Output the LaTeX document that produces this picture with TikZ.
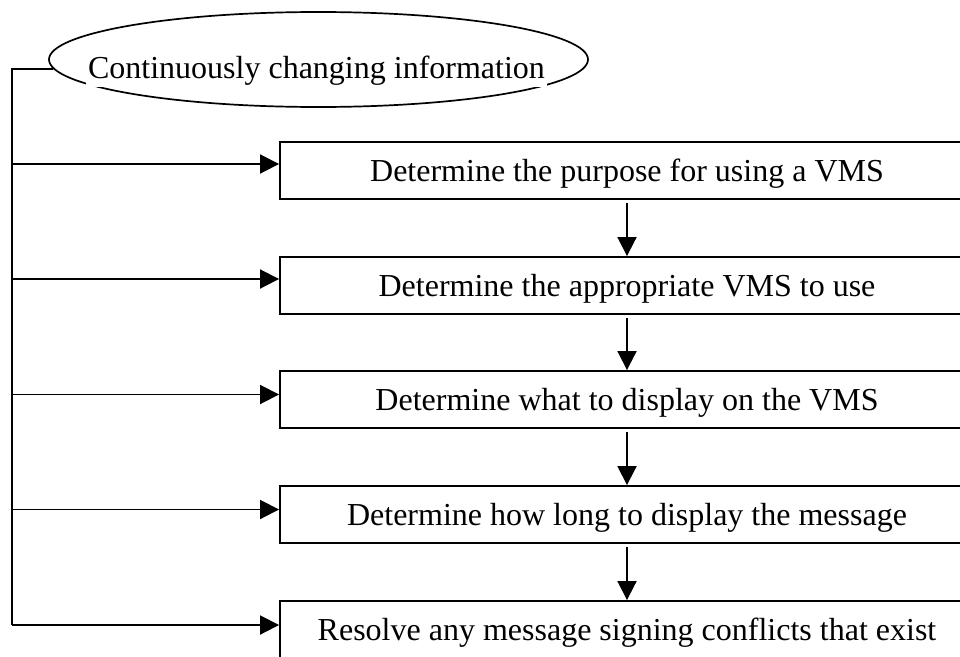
\documentclass[tikz,border=0pt]{standalone}
\usepackage{fontspec}
\setmainfont{Liberation Serif}
\usetikzlibrary{arrows.meta,shapes.geometric,calc}
\tikzset{
  stepbox/.style={draw,line width=1.9pt,minimum width=694pt,minimum height=57pt,inner sep=0pt,
    text height=21pt,text depth=0pt,font=\fontsize{32}{38}\selectfont},
  link/.style={line width=1.9pt},
  arr/.style={line width=1.9pt,-{Triangle[length=19pt,width=19pt]}},
  ell/.style={draw,ellipse,line width=1.7pt,minimum width=539pt,minimum height=95pt,inner sep=0pt},
  elltext/.style={fill=white,inner sep=2pt,font=\fontsize{32}{38}\selectfont,anchor=base}
}
\begin{document}
\begin{tikzpicture}[x=1pt,y=-1pt]
\clip (0,0) rectangle (960,656);
\fill[white] (0,0) rectangle (960,656);
\node[ell] (e) at (318.5,59.5) {};
\node[elltext] (et) at (316.5,78) {Continuously changing information};
\node[stepbox] (b1) at (627,170.5) {Determine the purpose for using a VMS};
\node[stepbox] (b2) at (627,285.5) {Determine the appropriate VMS to use};
\node[stepbox] (b3) at (627,399.5) {Determine what to display on the VMS};
\node[stepbox] (b4) at (627,514.5) {Determine how long to display the message};
\node[stepbox] (b5) at (627,629.5) {Resolve any message signing conflicts that exist};
\coordinate (L) at (12,0);
\coordinate (A1) at ([yshift=6.5pt]b1.west);
\coordinate (A2) at ([yshift=6.5pt]b2.west);
\coordinate (A3) at ([yshift=5pt]b3.west);
\coordinate (A4) at ([yshift=5pt]b4.west);
\coordinate (A5) at ([yshift=4.5pt]b5.west);
\draw[link] (e.182) -| (A5 -| L);
\draw[arr] (A1 -| L) -- (A1);
\draw[arr] (A2 -| L) -- (A2);
\draw[arr] (A3 -| L) -- (A3);
\draw[arr] (A4 -| L) -- (A4);
\draw[arr] (A5 -| L) -- (A5);
\draw[arr,shorten <=3pt] (b1.south) -- (b2.north);
\draw[arr,shorten <=3pt] (b2.south) -- (b3.north);
\draw[arr,shorten <=3pt] (b3.south) -- (b4.north);
\draw[arr,shorten <=3pt] (b4.south) -- (b5.north);
\end{tikzpicture}
\end{document}
